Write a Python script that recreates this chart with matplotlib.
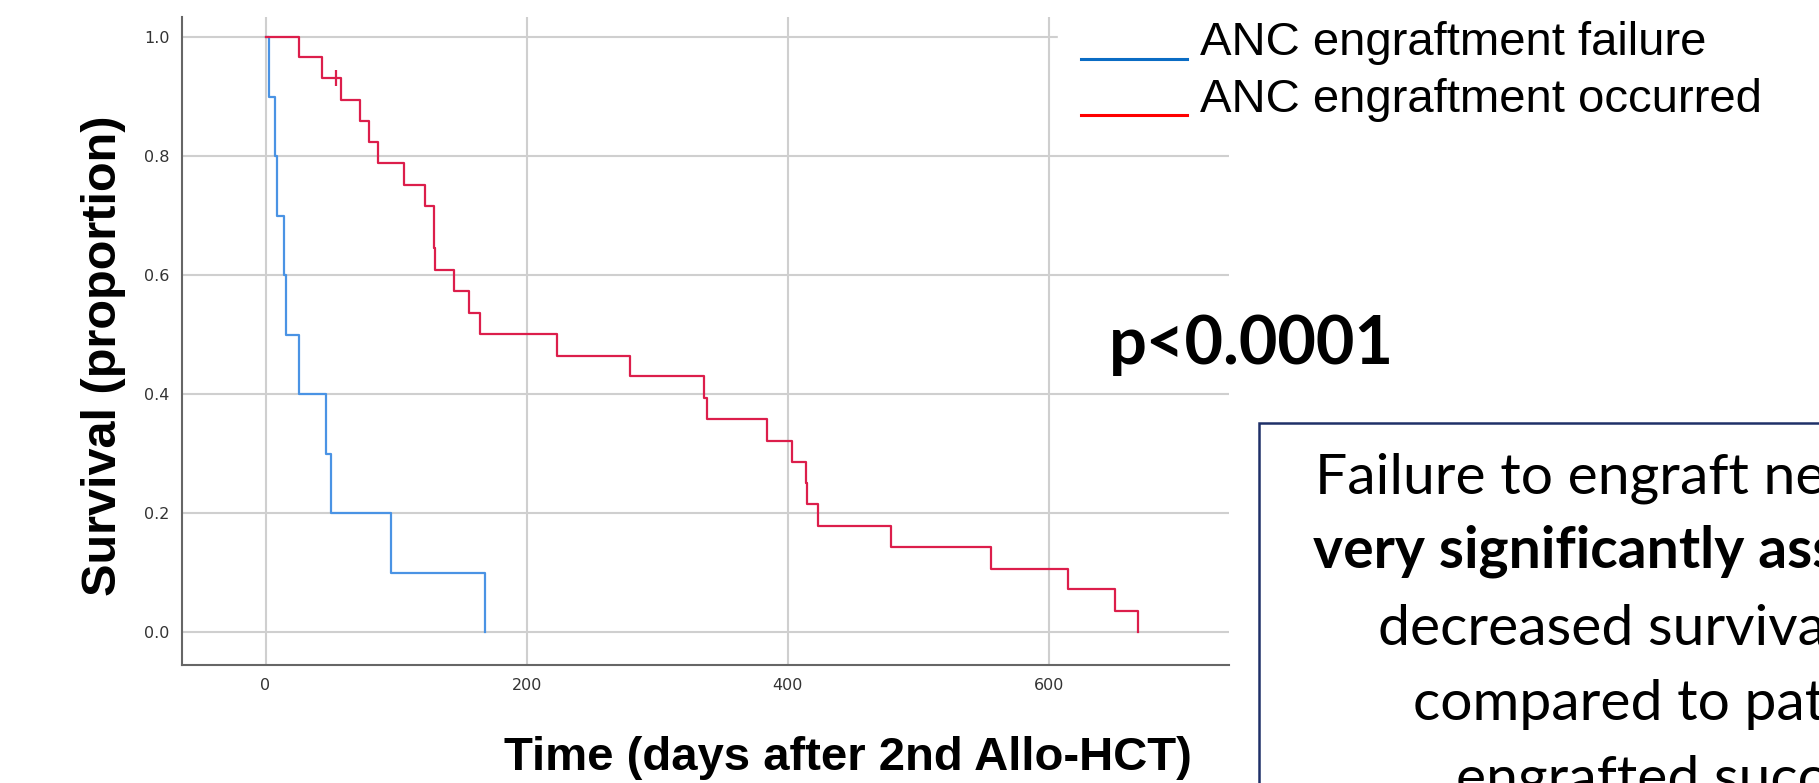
import matplotlib
matplotlib.use('Agg')
import matplotlib.pyplot as plt
from matplotlib.patches import Rectangle
from matplotlib.lines import Line2D

# Kaplan-Meier steps (days, survival proportion)
fail_days = [0, 3, 7, 9, 14, 16, 26, 46, 50, 96, 168]
fail_surv = [1.0, 0.9, 0.8, 0.7, 0.6, 0.5, 0.4, 0.3, 0.2, 0.1, 0.0]

occ_days = [0, 26, 43, 58, 72, 79, 86, 106, 122, 129, 130, 144, 156, 164,
            223, 279, 336, 338, 384, 403, 414, 415, 423, 479, 556, 615, 651, 668]
occ_surv = [1.0, 0.966, 0.931, 0.895, 0.860, 0.824, 0.788, 0.752, 0.716, 0.645,
            0.609, 0.573, 0.537, 0.501, 0.465, 0.430, 0.394, 0.358, 0.322, 0.286,
            0.251, 0.215, 0.179, 0.143, 0.107, 0.072, 0.036, 0.0]
occ_cens_days = [54]
occ_cens_surv = [0.931]

labels = ['ANC engraftment failure', 'ANC engraftment occurred']
x_ticks = [0, 200, 400, 600]
y_ticks = [0.0, 0.2, 0.4, 0.6, 0.8, 1.0]

W, H = 1819, 783
fig = plt.figure(figsize=(W / 100, H / 100), dpi=100)
ax = fig.add_axes([182 / W, 1 - 665 / H, (1229 - 182) / W, (665 - 17) / H])

ax.step(fail_days, fail_surv, where='post', color='#4a93e4', lw=1.6, zorder=3)
ax.step(occ_days, occ_surv, where='post', color='#dc1e4b', lw=1.6, zorder=3)
ax.plot(occ_cens_days, occ_cens_surv, ls='none', marker='|', ms=12, mew=1.6,
        color='#dc1e4b', zorder=3)

ax.set_xlim(-64, 738)
ax.set_ylim(-0.055, 1.034)
ax.set_xticks(x_ticks)
ax.set_yticks(y_ticks)
ax.set_yticklabels(['%.1f' % v for v in y_ticks])
ax.tick_params(length=0, labelsize=11.5, labelcolor='#333333', pad=9)
ax.grid(True, color='#cfcfcf', lw=1.5)
ax.set_axisbelow(True)
for s in ['top', 'right']:
    ax.spines[s].set_visible(False)
for s in ['left', 'bottom']:
    ax.spines[s].set_color('#666666')
    ax.spines[s].set_linewidth(1.5)

fig.text(848 / W, 1 - 770 / H, 'Time (days after 2nd Allo-HCT)', ha='center',
         va='baseline', fontsize=34, fontweight='bold', family='Liberation Sans')
fig.text(104 / W, 1 - 356 / H, 'Survival (proportion)', ha='center', va='center',
         rotation=90, fontsize=35, fontweight='bold', family='Liberation Sans')

# legend drawn by hand: coloured underscores before the labels
fig.patches.append(Rectangle((1058 / W, 1 - 130 / H), 1, 130 / H,
                             transform=fig.transFigure, color='white', zorder=1))
leg_cols = ['#0a6cc4', '#ff0000']
leg_y = [59, 115]
leg_base = [55, 112]
for c, yy, yb, lab in zip(leg_cols, leg_y, leg_base, labels):
    fig.add_artist(Line2D([1081 / W, 1187 / W], [1 - yy / H, 1 - yy / H],
                          color=c, lw=2.2, zorder=2))
    fig.text(1200 / W, 1 - yb / H, lab, va='baseline', fontsize=34,
             family='Liberation Sans', zorder=2)

fig.text(1109 / W, 1 - 364 / H, 'p<0.0001', va='baseline', fontsize=48,
         fontweight='bold', family='Lato')

fig.patches.append(Rectangle((1259 / W, -0.1), 0.5, 0.1 + 1 - 423 / H,
                             transform=fig.transFigure, fill=False,
                             edgecolor='#1f3068', lw=1.8, zorder=2))
box_lines = ['Failure to engraft neutrophils was',
             'very significantly associated with',
             'decreased survival when',
             'compared to patients who',
             'engrafted successfully']
box_x = [1315, 1313, 1378, 1413, 1456]
box_y = [493, 568, 645, 720, 796]
box_w = ['normal', 'bold', 'normal', 'normal', 'normal']
for t, xx, yy, w in zip(box_lines, box_x, box_y, box_w):
    fig.text(xx / W, 1 - yy / H, t, va='baseline', fontsize=41, fontweight=w,
             family='Lato')

fig.savefig('out.png', dpi=100)
